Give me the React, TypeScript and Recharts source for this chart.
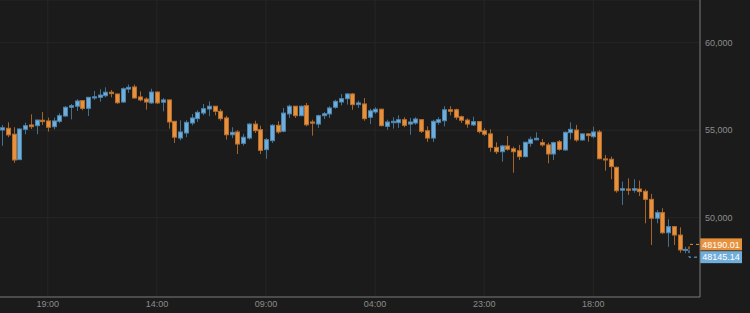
import { ComposedChart, Bar, XAxis, YAxis, CartesianGrid, ReferenceLine } from "recharts";

// hourly candles, oldest first
const opens = [
  55010, 55110, 54770, 53320, 55050, 55300, 55260, 55570, 55530, 55200,
  55510, 55810, 56310, 56370, 56690, 56250, 56840, 56880, 56970, 57170,
  57070, 56610, 57350, 57470, 56900, 56780, 56560, 57180, 56600, 56730,
  55510, 54550, 54840, 55410, 55660, 55980, 56210, 56370, 56080, 55700,
  54740, 54900, 54250, 54550, 55350, 55030, 53890, 54400, 55280, 54940,
  55930, 56370, 55830, 56400, 55470, 55350, 55830, 55930, 56310, 56610,
  56800, 57070, 56460, 56500, 55740, 56040, 56200, 55220, 55430, 55430,
  55600, 55350, 55410, 55600, 54970, 54550, 55450, 55540, 56170, 56170,
  55770, 55580, 55300, 55490, 54970, 54790, 54020, 53770, 54100, 53940,
  53830, 53490, 54250, 54450, 54290, 54160, 53640, 54340, 53870, 54860,
  55010, 54440, 54790, 54630, 54900, 53360, 53340, 52880, 51570, 51640,
  51570, 51640, 51510, 51050, 49970, 50290, 49140, 49490, 49010, 48150,
];
const highs = [
  55300, 55450, 55170, 55090, 55430, 55910, 55600, 56040, 55720, 55720,
  55970, 56380, 56500, 56770, 56700, 56890, 57240, 57340, 57450, 57300,
  57080, 57450, 57610, 57610, 57220, 56880, 57370, 57220, 56840, 56740,
  55520, 55570, 55570, 55930, 56140, 56500, 56650, 56380, 56210, 55830,
  55170, 55000, 54790, 55410, 55540, 55260, 54550, 55350, 55510, 56270,
  56460, 56380, 56420, 56560, 55600, 55890, 56040, 56370, 56740, 57070,
  57130, 57130, 56690, 56840, 56230, 56310, 56230, 55600, 55740, 55850,
  55740, 55700, 55740, 55610, 55220, 55600, 55740, 56370, 56370, 56230,
  55830, 55680, 55770, 55500, 55110, 55050, 54310, 54160, 54670, 54060,
  54160, 54340, 54630, 54880, 54500, 54290, 54340, 54440, 54920, 55450,
  55300, 54820, 54820, 55200, 55010, 53580, 53490, 52920, 52060, 52250,
  52200, 52120, 51620, 51360, 50440, 50540, 49910, 49500, 49450, 48340,
];
const lows = [
  54110, 54600, 53140, 53290, 54770, 55070, 54770, 55300, 54920, 55050,
  55400, 55770, 55620, 56100, 56140, 55810, 56730, 56630, 56880, 56880,
  56500, 56560, 57130, 56800, 56650, 56170, 56500, 56500, 56080, 55090,
  54270, 54420, 54600, 55280, 55470, 55850, 55800, 55850, 55540, 54460,
  54550, 53640, 54120, 54460, 54840, 53640, 53370, 54270, 54790, 54880,
  55700, 55700, 55800, 55220, 54690, 55130, 55640, 55700, 56230, 56420,
  56460, 56170, 56270, 55540, 55350, 55930, 55220, 55030, 55090, 55130,
  55170, 54740, 55310, 54840, 54330, 54330, 55310, 55220, 55850, 55600,
  55410, 55140, 55240, 54820, 54670, 53770, 53640, 53200, 53830, 52570,
  53300, 53450, 54060, 54440, 54060, 53110, 53300, 53830, 53830, 54480,
  54340, 54400, 54340, 54540, 53340, 52690, 52200, 51430, 50730, 51300,
  51430, 51240, 49680, 48440, 49680, 49070, 48340, 48440, 48000, 47970,
];
const closes = [
  55140, 54730, 53300, 55070, 55260, 55200, 55580, 55490, 55170, 55530,
  55830, 56310, 56400, 56670, 56250, 56880, 56910, 57010, 57170, 57090,
  56570, 57370, 57450, 56840, 56730, 56610, 57180, 56560, 56730, 55470,
  54600, 54900, 55450, 55700, 56020, 56230, 56370, 56080, 55660, 54740,
  54880, 54210, 54600, 55350, 54970, 53850, 54460, 55280, 54900, 55980,
  56370, 55830, 56370, 55310, 55400, 55830, 55940, 56270, 56650, 56800,
  57070, 56460, 56560, 55660, 56110, 56200, 55260, 55470, 55510, 55600,
  55280, 55470, 55640, 54940, 54550, 55510, 55600, 56170, 56080, 55740,
  55570, 55350, 55490, 54920, 54770, 54020, 53770, 54100, 53910, 53770,
  53490, 54310, 54480, 54540, 54160, 53640, 54290, 53910, 54880, 55050,
  54440, 54790, 54690, 54900, 53370, 53300, 52920, 51540, 51660, 51570,
  51660, 51490, 51050, 49970, 50290, 49140, 49490, 49010, 48160, 48190,
];

const tickIndex = [8, 27, 46, 65, 84, 103];
const tickLabels = ["19:00", "14:00", "09:00", "04:00", "23:00", "18:00"];
const priceTicks = [50000, 55000, 60000];
const lastPrice = 48190.01;
const bidPrice = 48145.14;

const ORANGE = "#e8913c";
const BLUE = "#6fadda";
const FONT = "'Liberation Sans', Arial, sans-serif";

const data = opens.map((o, i) => ({
  i,
  open: o,
  high: highs[i],
  low: lows[i],
  close: closes[i],
  range: [lows[i], highs[i]],
}));

function Candle(props: any) {
  const { x, y, width, height, payload } = props;
  const { open, close, high, low } = payload;
  const cx = Math.round(x + width / 2) + 0.5;
  const top = Math.min(y, y + height);
  const k = Math.abs(height) / Math.max(high - low, 1);
  const py = (v: number) => top + (high - v) * k;
  const up = close >= open;
  const bTop = py(Math.max(open, close));
  const bH = Math.max(py(Math.min(open, close)) - bTop, 1);
  return (
    <g>
      <line x1={cx} x2={cx} y1={top} y2={top + Math.abs(height)} stroke={up ? "#44708f" : "#a3632b"} strokeWidth={1} />
      <rect
        x={cx - 2}
        y={bTop}
        width={4}
        height={bH}
        fill={up ? BLUE : ORANGE}
        stroke={up ? "#4c84ad" : "#b86f2d"}
        strokeWidth={1}
      />
    </g>
  );
}

function PriceTag({ viewBox, value, color, shift }: any) {
  const right = viewBox.x + viewBox.width;
  const y = viewBox.y;
  const ty = y + shift;
  return (
    <g>
      <path d={`M${right - 11},${y} V${ty} H${right}`} stroke={color} strokeDasharray="3 3" fill="none" />
      <rect x={right} y={ty - 6} width={42} height={12} fill={color} />
      <text x={right + 21} y={ty} dy="0.35em" textAnchor="middle" fill="#ffffff" fontSize={9} fontFamily={FONT}>
        {value}
      </text>
    </g>
  );
}

export default function App() {
  return (
    <div style={{ position: "fixed", left: 0, top: 0, width: 750, height: 313, background: "#1b1b1b", overflow: "hidden" }}>
      <ComposedChart
        width={751}
        height={313}
        data={data}
        margin={{ top: 0, right: 0, bottom: 0, left: 0 }}
        style={{ position: "absolute", left: -1, top: 0 }}
      >
        <CartesianGrid stroke="#262626" />
        <XAxis
          dataKey="i"
          type="category"
          ticks={tickIndex}
          interval={0}
          tickFormatter={(v) => tickLabels[tickIndex.indexOf(v)]}
          padding={{ left: 0, right: 12 }}
          height={16}
          tickLine={false}
          tickSize={2}
          tickMargin={2}
          axisLine={{ stroke: "#777777" }}
          tick={{ fill: "#8c8c8c", fontSize: 9, fontFamily: FONT }}
        />
        <YAxis
          orientation="right"
          type="number"
          domain={[45469, 62440]}
          allowDataOverflow
          ticks={priceTicks}
          width={50}
          tickLine={false}
          tickSize={2}
          tickMargin={3}
          axisLine={{ stroke: "#777777" }}
          tickFormatter={(v) => v.toLocaleString("en-US")}
          tick={{ fill: "#8c8c8c", fontSize: 9, fontFamily: FONT, textAnchor: "start" }}
        />
        <Bar dataKey="range" shape={<Candle />} isAnimationActive={false} />
        <ReferenceLine
          y={lastPrice}
          stroke="none"
          label={(p: any) => <PriceTag viewBox={p.viewBox} value={lastPrice.toFixed(2)} color={ORANGE} shift={-5} />}
        />
        <ReferenceLine
          y={bidPrice}
          stroke="none"
          label={(p: any) => <PriceTag viewBox={p.viewBox} value={bidPrice.toFixed(2)} color={BLUE} shift={7} />}
        />
      </ComposedChart>
    </div>
  );
}
